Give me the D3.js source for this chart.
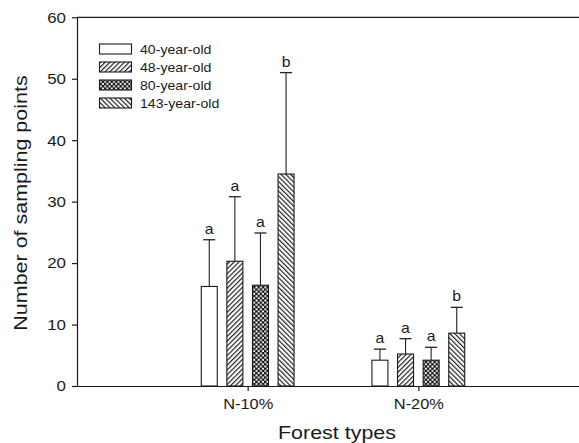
<!DOCTYPE html>
<html>
<head>
<meta charset="utf-8">
<script src="https://cdn.jsdelivr.net/npm/d3@7"></script>
<style>
  html, body { margin: 0; padding: 0; background: #fff; }
  svg { display: block; }
  text { font-family: "Liberation Sans", Arial, Helvetica, sans-serif; fill: #1a1a1a; }
</style>
</head>
<body>
<svg id="chart" width="579" height="443"></svg>
<script>
// ---- data ----
const categories = ["N-10%", "N-20%"];
const series = ["40-year-old", "48-year-old", "80-year-old", "143-year-old"];
const means = {
  "40-year-old":  [16.2, 4.2],
  "48-year-old":  [20.3, 5.2],
  "80-year-old":  [16.4, 4.2],
  "143-year-old": [34.5, 8.6]
};
const errTops = {
  "40-year-old":  [23.8, 6.0],
  "48-year-old":  [30.8, 7.7],
  "80-year-old":  [24.9, 6.3],
  "143-year-old": [51.0, 12.8]
};
const letters = {
  "40-year-old":  ["a", "a"],
  "48-year-old":  ["a", "a"],
  "80-year-old":  ["a", "a"],
  "143-year-old": ["b", "b"]
};
const yTicks = [0, 10, 20, 30, 40, 50, 60];
const xTitle = "Forest types";
const yTitle = "Number of sampling points";

// ---- layout ----
const STRETCH = 1.13;
const svg = d3.select("#chart");
const x0 = 77, x1 = 589, yBottom = 386, yTop = 17.3;

const x = d3.scaleLinear().domain([0, categories.length + 1]).range([x0, x1]);
const y = d3.scaleLinear().domain([0, 60]).range([yBottom, yTop]);
const inner = d3.scaleBand().domain(series).range([-51.2, 51.2]).paddingInner(0.375).paddingOuter(0.1875);

// ---- patterns ----
const defs = svg.append("defs");
const p48 = defs.append("pattern").attr("id", "p48").attr("patternUnits", "userSpaceOnUse")
  .attr("width", 3.4).attr("height", 10).attr("patternTransform", "rotate(45)");
p48.append("rect").attr("width", 3.4).attr("height", 10).attr("fill", "#fff");
p48.append("line").attr("x1", 0.6).attr("x2", 0.6).attr("y1", 0).attr("y2", 10).attr("stroke", "#111").attr("stroke-width", 1.1);

const p143 = defs.append("pattern").attr("id", "p143").attr("patternUnits", "userSpaceOnUse")
  .attr("width", 3.4).attr("height", 10).attr("patternTransform", "rotate(-45)");
p143.append("rect").attr("width", 3.4).attr("height", 10).attr("fill", "#fff");
p143.append("line").attr("x1", 0.6).attr("x2", 0.6).attr("y1", 0).attr("y2", 10).attr("stroke", "#111").attr("stroke-width", 1.1);

const p80 = defs.append("pattern").attr("id", "p80").attr("patternUnits", "userSpaceOnUse")
  .attr("width", 4.4).attr("height", 4.4);
p80.append("rect").attr("width", 4.4).attr("height", 4.4).attr("fill", "#111");
p80.append("rect").attr("x", 0.3).attr("y", 0.3).attr("width", 2.0).attr("height", 2.0).attr("fill", "#fff");
p80.append("rect").attr("x", 2.5).attr("y", 2.5).attr("width", 2.0).attr("height", 2.0).attr("fill", "#fff");

const fills = { "40-year-old": "#fff", "48-year-old": "url(#p48)", "80-year-old": "url(#p80)", "143-year-old": "url(#p143)" };

function stretchText(sel) {
  sel.each(function () {
    const t = d3.select(this);
    const tx = +t.attr("x") || 0;
    t.attr("transform", `translate(${tx},0) scale(${STRETCH},1) translate(${-tx},0)`);
  });
}

// ---- axes ----
const yAxis = svg.append("g").attr("transform", `translate(${x0},0)`)
  .call(d3.axisLeft(y).tickValues(yTicks).tickSize(5).tickPadding(6).tickSizeOuter(0));
yAxis.select(".domain").attr("stroke", "#1a1a1a").attr("stroke-width", 1.2);
yAxis.selectAll(".tick line").attr("stroke", "#1a1a1a").attr("stroke-width", 1.2);
yAxis.selectAll(".tick text").attr("font-size", 15).attr("font-family", "Liberation Sans, Arial, sans-serif").attr("fill", "#1a1a1a").call(stretchText);

const xAxis = svg.append("g").attr("transform", `translate(0,${yBottom})`)
  .call(d3.axisBottom(x).tickValues([1, 2]).tickFormat((d) => categories[d - 1]).tickSize(5).tickPadding(8).tickSizeOuter(0));
xAxis.select(".domain").attr("stroke", "#1a1a1a").attr("stroke-width", 1.2);
xAxis.selectAll(".tick line").attr("stroke", "#1a1a1a").attr("stroke-width", 1.2);
xAxis.selectAll(".tick text").attr("font-size", 14.5).attr("font-family", "Liberation Sans, Arial, sans-serif").attr("fill", "#1a1a1a").call(stretchText);

// top frame line
svg.append("line").attr("x1", x(0)).attr("x2", x(categories.length + 1)).attr("y1", y(60)).attr("y2", y(60))
  .attr("stroke", "#1a1a1a").attr("stroke-width", 1.2);

// ---- bars ----
const rows = [];
categories.forEach((c, ci) => series.forEach((s) => rows.push({ c, ci, s, v: means[s][ci], e: errTops[s][ci], l: letters[s][ci] })));

const g = svg.append("g");
rows.forEach((d) => {
  const cx = x(d.ci + 1) + inner(d.s) + inner.bandwidth() / 2;
  g.append("line").attr("x1", cx).attr("x2", cx).attr("y1", y(d.v)).attr("y2", y(d.e)).attr("stroke", "#222").attr("stroke-width", 1.1);
  g.append("line").attr("x1", cx - 6).attr("x2", cx + 6).attr("y1", y(d.e)).attr("y2", y(d.e)).attr("stroke", "#222").attr("stroke-width", 1.3);
  g.append("text").attr("x", cx).attr("y", y(d.e) - 6).attr("text-anchor", "middle").attr("font-size", 14).text(d.l)
    .attr("transform", `translate(${cx},0) scale(${STRETCH},1) translate(${-cx},0)`);
});
g.selectAll("rect.bar").data(rows).join("rect").attr("class", "bar")
  .attr("x", (d) => x(d.ci + 1) + inner(d.s))
  .attr("width", inner.bandwidth())
  .attr("y", (d) => y(d.v))
  .attr("height", (d) => y(0) - y(d.v))
  .attr("fill", (d) => fills[d.s])
  .attr("stroke", "#1a1a1a").attr("stroke-width", 1.1);

// ---- legend ----
const legend = svg.append("g").attr("transform", "translate(99.5,49)");
series.forEach((s, i) => {
  const row = legend.append("g").attr("transform", `translate(0,${i * 18})`);
  row.append("rect").attr("x", 0).attr("y", -5).attr("width", 32).attr("height", 10)
    .attr("fill", fills[s]).attr("stroke", "#1a1a1a").attr("stroke-width", 1.1);
  row.append("text").attr("x", 40.5).attr("y", 0).attr("dy", "0.36em").attr("font-size", 12.5).text(s)
    .attr("transform", `translate(40.5,0) scale(${STRETCH},1) translate(-40.5,0)`);
});

// ---- axis titles ----
const xtx = (x0 + x1) / 2 + 4;
svg.append("text").attr("x", xtx).attr("y", 439.5).attr("text-anchor", "middle").attr("font-size", 19).text(xTitle)
  .attr("transform", `translate(${xtx},0) scale(${STRETCH},1) translate(${-xtx},0)`);
svg.append("text").attr("text-anchor", "middle").attr("font-size", 19).text(yTitle)
  .attr("transform", `translate(27.4,203) rotate(-90) scale(${STRETCH},1)`);
</script>
</body>
</html>
